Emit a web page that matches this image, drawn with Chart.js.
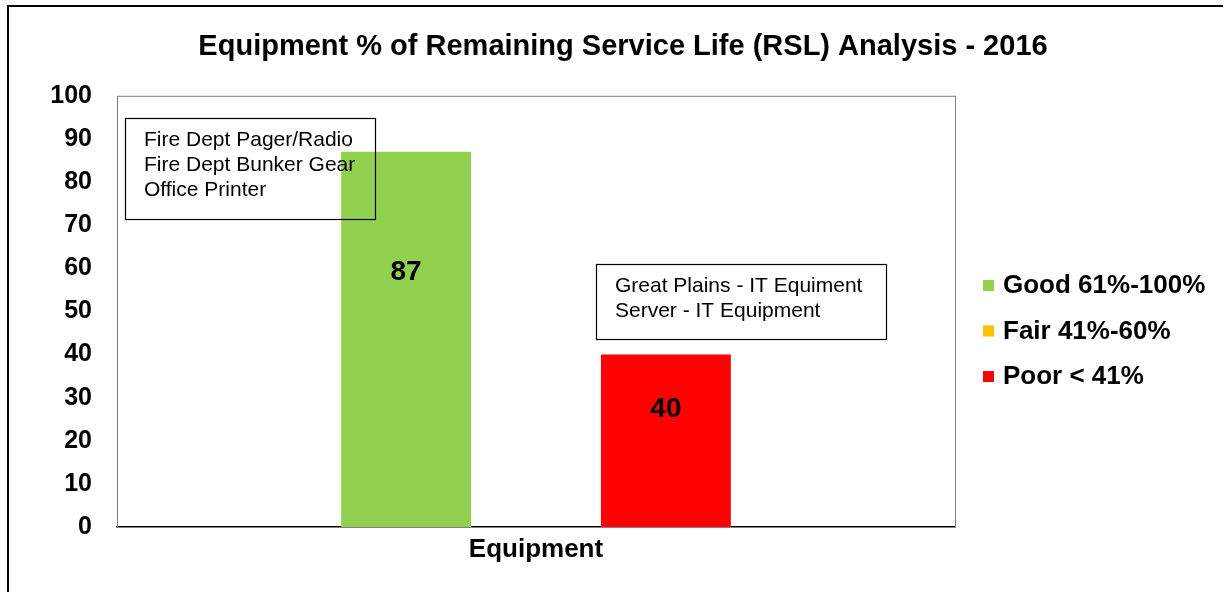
<!DOCTYPE html>
<html>
<head>
<meta charset="utf-8">
<title>Equipment RSL Analysis - 2016</title>
<script src="https://cdn.jsdelivr.net/npm/chart.js@4/dist/chart.umd.min.js"></script>
<style>
    html, body { margin: 0; padding: 0; background: #ffffff; }
    .wrap { position: relative; width: 1231px; height: 592px; overflow: hidden; }
    .frame {
        position: absolute; left: 7px; top: 5px; width: 1214px; height: 600px;
        border-top: 2px solid #000; border-left: 2px solid #000;
    }
    canvas { position: absolute; left: 0; top: 0; }
</style>
</head>
<body>
<div class="wrap">
    <div class="frame"></div>
    <canvas id="rsl" width="1231" height="592"></canvas>
</div>
<script>
// Data
var categories   = ['Equipment'];
var seriesLabels = ['Good 61%-100%', 'Fair 41%-60%', 'Poor < 41%'];
var goodValues   = [87];
var fairValues   = [null];
var poorValues   = [40];
var seriesColors = ['#92D050', '#FFC000', '#FF0000'];
var yTicks       = [0, 10, 20, 30, 40, 50, 60, 70, 80, 90, 100];

// Text boxes placed on the plot
var goodNotes = ['Fire Dept Pager/Radio', 'Fire Dept Bunker Gear', 'Office Printer'];
var poorNotes = ['Great Plains - IT Equiment', 'Server - IT Equipment'];

var FONT = '"Liberation Sans", Arial, Helvetica, sans-serif';

// Grey frame round the plot area
var plotFrame = {
    id: 'plotFrame',
    beforeDatasetsDraw: function(chart) {
        var a = chart.chartArea, ctx = chart.ctx;
        ctx.save();
        ctx.strokeStyle = '#808080';
        ctx.lineWidth = 1;
        ctx.strokeRect(a.left + 0.5, a.top + 0.5, a.right - a.left, a.bottom - a.top);
        ctx.restore();
    }
};

// Value labels, about a third of the way down each bar
var barLabels = {
    id: 'barLabels',
    afterDatasetsDraw: function(chart) {
        var ctx = chart.ctx;
        ctx.save();
        ctx.font = 'bold 28px ' + FONT;
        ctx.fillStyle = '#000';
        ctx.textAlign = 'center';
        ctx.textBaseline = 'middle';
        chart.data.datasets.forEach(function(ds, i) {
            chart.getDatasetMeta(i).data.forEach(function(bar, j) {
                var v = ds.data[j];
                if (v === null || v === undefined) return;
                var y = bar.y + (bar.base - bar.y) * 0.32;
                ctx.fillText(String(v), bar.x, y);
            });
        });
        ctx.restore();
    }
};

// Note boxes (offsets from the plot's top-left corner)
var noteBoxes = {
    id: 'noteBoxes',
    afterDatasetsDraw: function(chart) {
        var a = chart.chartArea, ctx = chart.ctx;
        var boxes = [
            { lines: goodNotes, dx: 8,   dy: 22,  w: 250, h: 101 },
            { lines: poorNotes, dx: 479, dy: 168, w: 290, h: 75 }
        ];
        ctx.save();
        ctx.strokeStyle = '#000';
        ctx.lineWidth = 1.2;
        ctx.fillStyle = '#000';
        ctx.font = '21px ' + FONT;
        ctx.textAlign = 'left';
        ctx.textBaseline = 'middle';
        boxes.forEach(function(b) {
            var x = a.left + b.dx, y = a.top + b.dy;
            ctx.strokeRect(Math.round(x) + 0.5, Math.round(y) + 0.5, b.w, b.h);
            b.lines.forEach(function(t, k) {
                ctx.fillText(t, x + 19, y + 22 + k * 25);
            });
        });
        ctx.restore();
    }
};

// Legend at the right of the plot
var sideLegend = {
    id: 'sideLegend',
    afterDraw: function(chart) {
        var a = chart.chartArea, ctx = chart.ctx;
        ctx.save();
        ctx.font = 'bold 26px ' + FONT;
        ctx.textAlign = 'left';
        ctx.textBaseline = 'middle';
        chart.data.datasets.forEach(function(ds, i) {
            var y = 286 + i * 45.5;
            ctx.fillStyle = ds.backgroundColor;
            ctx.fillRect(a.right + 28, y - 6, 11, 11);
            ctx.fillStyle = '#000';
            ctx.fillText(ds.label, a.right + 48, y);
        });
        ctx.restore();
    }
};

new Chart(document.getElementById('rsl'), {
    type: 'bar',
    data: {
        labels: categories,
        datasets: [
            { label: seriesLabels[0], data: goodValues, backgroundColor: seriesColors[0] },
            { label: seriesLabels[1], data: fairValues, backgroundColor: seriesColors[1] },
            { label: seriesLabels[2], data: poorValues, backgroundColor: seriesColors[2] }
        ]
    },
    options: {
        responsive: false,
        animation: false,
        layout: { padding: { left: 15, right: 0, top: 0, bottom: 0 } },
        datasets: {
            bar: { categoryPercentage: 0.465, barPercentage: 1.0, borderWidth: 0 }
        },
        plugins: {
            legend: { display: false },
            tooltip: { enabled: false },
            title: {
                display: true,
                text: 'Equipment % of Remaining Service Life (RSL) Analysis - 2016',
                color: '#000',
                font: { family: FONT, size: 29, weight: 'bold' },
                padding: { top: 30, bottom: 31 }
            }
        },
        scales: {
            x: {
                grid: { display: false, drawTicks: false },
                border: { display: true, color: '#000', width: 1.5 },
                ticks: { color: '#000', padding: 7, font: { family: FONT, size: 26, weight: 'bold' } },
                afterFit: function(s) { s.height = 65; }
            },
            y: {
                min: 0,
                max: 100,
                afterBuildTicks: function(s) { s.ticks = yTicks.map(function(v) { return { value: v }; }); },
                grid: { display: false, drawTicks: false },
                border: { display: false },
                ticks: { color: '#000', padding: 25, font: { family: FONT, size: 25, weight: 'bold' } },
                afterFit: function(s) { s.width = 102; }
            },
            yr: {
                position: 'right',
                min: 0,
                max: 100,
                grid: { display: false, drawTicks: false },
                border: { display: false },
                ticks: { display: false },
                afterFit: function(s) { s.width = 276; }
            }
        }
    },
    plugins: [plotFrame, barLabels, noteBoxes, sideLegend]
});
</script>
</body>
</html>
